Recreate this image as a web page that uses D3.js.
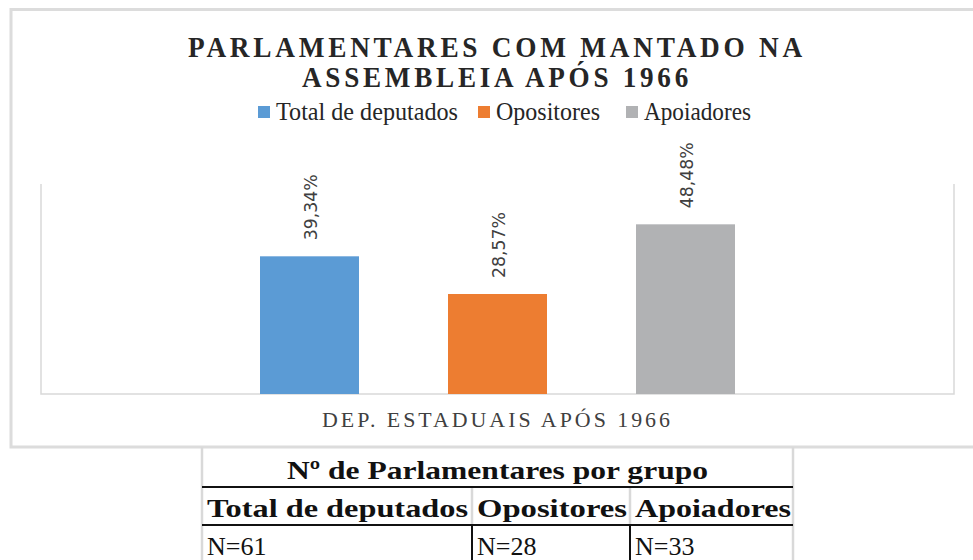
<!DOCTYPE html>
<html>
<head>
<meta charset="utf-8">
<script src="https://cdn.jsdelivr.net/npm/d3@7"></script>
<style>
  body { margin: 0; background: #fff; }
  svg { display: block; }
</style>
</head>
<body>
<div id="chart"></div>
<script>
// Chart data
const series = ["Total de deputados", "Opositores", "Apoiadores"];
const values = [39.34, 28.57, 48.48];
const colors = ["#5b9bd5", "#ed7d31", "#b1b2b4"];
const category = "DEP. ESTADUAIS APÓS 1966";
const titleLines = ["PARLAMENTARES COM MANTADO NA", "ASSEMBLEIA APÓS 1966"];

// Table data
const tableTitle = "Nº de Parlamentares por grupo";
const tableHeads = ["Total de deputados", "Opositores", "Apoiadores"];
const tableCounts = ["N=61", "N=28", "N=33"];

const width = 973;
const height = 560;
const serif = "'Liberation Serif', 'Times New Roman', serif";

const svg = d3.select("#chart").append("svg")
    .attr("width", width)
    .attr("height", height);

// Outer chart frame (right side runs off the page)
svg.append("path")
    .attr("d", `M${width + 5},9.5 H11 V447 H${width + 5}`)
    .attr("fill", "none")
    .attr("stroke", "#dcdcdc")
    .attr("stroke-width", 3);

// Plot area
const plot = { left: 41, right: 954, top: 184, bottom: 394 };

const y = d3.scaleLinear()
    .domain([0, 60])
    .range([plot.bottom, plot.top]);

const xCat = d3.scaleBand()
    .domain([category])
    .range([plot.left, plot.right]);

// bars of the single category sit in the middle of it
const clusterWidth = 564;
const xCenter = xCat(category) + xCat.bandwidth() / 2;
const x = d3.scaleBand()
    .domain(series)
    .range([xCenter - clusterWidth / 2, xCenter + clusterWidth / 2])
    .paddingInner(0.4734)
    .paddingOuter(0.2367);

// plot area border: left, right and bottom lines
svg.append("path")
    .attr("d", `M${plot.left},${plot.top} V${plot.bottom} H${plot.right} V${plot.top}`)
    .attr("fill", "none")
    .attr("stroke", "#d9d9d9")
    .attr("stroke-width", 1.5);

// Bars
svg.selectAll("rect.bar")
    .data(series)
    .enter().append("rect")
    .attr("class", "bar")
    .attr("x", d => x(d))
    .attr("width", x.bandwidth())
    .attr("y", (d, i) => y(values[i]))
    .attr("height", (d, i) => y(0) - y(values[i]))
    .attr("fill", (d, i) => colors[i]);

// Value labels, rotated
const fmt = v => v.toFixed(2).replace(".", ",") + "%";
svg.selectAll("text.val")
    .data(series)
    .enter().append("text")
    .attr("class", "val")
    .attr("transform", (d, i) => `translate(${x(d) + x.bandwidth() / 2 + 7},${y(values[i]) - 16}) rotate(-90)`)
    .attr("font-family", "'DejaVu Sans', sans-serif")
    .attr("font-size", 18)
    .attr("fill", "#404040")
    .attr("textLength", 66)
    .attr("lengthAdjust", "spacingAndGlyphs")
    .text((d, i) => fmt(values[i]));

// Title: letter-spaced, then squeezed to the measured width
const titleLen = [618, 390];
svg.selectAll("text.title")
    .data(titleLines)
    .enter().append("text")
    .attr("class", "title")
    .attr("x", 497)
    .attr("y", (d, i) => 57 + i * 30)
    .attr("text-anchor", "middle")
    .attr("font-family", serif)
    .attr("font-weight", "bold")
    .attr("font-size", 29)
    .attr("letter-spacing", 4)
    .attr("fill", "#262626")
    .attr("textLength", (d, i) => titleLen[i])
    .attr("lengthAdjust", "spacingAndGlyphs")
    .text(d => d);

// Legend
const legendX = [258, 478, 626];
const legendLen = [182, 104, 107];
const legend = svg.selectAll("g.legend")
    .data(series)
    .enter().append("g")
    .attr("class", "legend")
    .attr("transform", (d, i) => `translate(${legendX[i]},0)`);

legend.append("rect")
    .attr("y", 106)
    .attr("width", 12)
    .attr("height", 12)
    .attr("fill", (d, i) => colors[i]);

legend.append("text")
    .attr("x", 18)
    .attr("y", 120)
    .attr("font-family", serif)
    .attr("font-size", 26)
    .attr("fill", "#262626")
    .attr("textLength", (d, i) => legendLen[i])
    .attr("lengthAdjust", "spacingAndGlyphs")
    .text(d => d);

// Category axis label
svg.append("text")
    .attr("x", xCenter)
    .attr("y", 427)
    .attr("text-anchor", "middle")
    .attr("font-family", serif)
    .attr("font-size", 22)
    .attr("letter-spacing", 3)
    .attr("fill", "#404040")
    .attr("textLength", 351)
    .attr("lengthAdjust", "spacingAndGlyphs")
    .text(category);

// Table below the chart
const colX = [202, 472, 630, 793];
const rowY = [447, 487, 525, 562];
const table = svg.append("g");

// outer side borders (light)
table.selectAll("line.side")
    .data([colX[0], colX[3]])
    .enter().append("line")
    .attr("x1", d => d).attr("x2", d => d)
    .attr("y1", rowY[0]).attr("y2", height)
    .attr("stroke", "#d9d9d9")
    .attr("stroke-width", 2.5);

// inner column dividers: light in head row, dark in count row
table.selectAll("line.colHead")
    .data([colX[1], colX[2]])
    .enter().append("line")
    .attr("x1", d => d).attr("x2", d => d)
    .attr("y1", rowY[1]).attr("y2", rowY[2])
    .attr("stroke", "#d9d9d9")
    .attr("stroke-width", 2.5);

table.selectAll("line.colBody")
    .data([colX[1], colX[2]])
    .enter().append("line")
    .attr("x1", d => d).attr("x2", d => d)
    .attr("y1", rowY[2]).attr("y2", height)
    .attr("stroke", "#111")
    .attr("stroke-width", 2);

// row dividers
table.selectAll("line.row")
    .data([rowY[1], rowY[2]])
    .enter().append("line")
    .attr("x1", colX[0]).attr("x2", colX[3])
    .attr("y1", d => d).attr("y2", d => d)
    .attr("stroke", "#111")
    .attr("stroke-width", 2);

table.append("text")
    .attr("x", (colX[0] + colX[3]) / 2)
    .attr("y", 479)
    .attr("text-anchor", "middle")
    .attr("font-family", serif)
    .attr("font-weight", "bold")
    .attr("font-size", 26)
    .attr("fill", "#111")
    .attr("textLength", 421)
    .attr("lengthAdjust", "spacingAndGlyphs")
    .text(tableTitle);

const headLen = [261, 150, 156];
table.selectAll("text.head")
    .data(tableHeads)
    .enter().append("text")
    .attr("class", "head")
    .attr("x", (d, i) => colX[i] + 5)
    .attr("y", 517)
    .attr("font-family", serif)
    .attr("font-weight", "bold")
    .attr("font-size", 26)
    .attr("fill", "#111")
    .attr("textLength", (d, i) => headLen[i])
    .attr("lengthAdjust", "spacingAndGlyphs")
    .text(d => d);

table.selectAll("text.count")
    .data(tableCounts)
    .enter().append("text")
    .attr("class", "count")
    .attr("x", (d, i) => colX[i] + 5)
    .attr("y", 555)
    .attr("font-family", serif)
    .attr("font-size", 26)
    .attr("fill", "#111")
    .text(d => d);
</script>
</body>
</html>
